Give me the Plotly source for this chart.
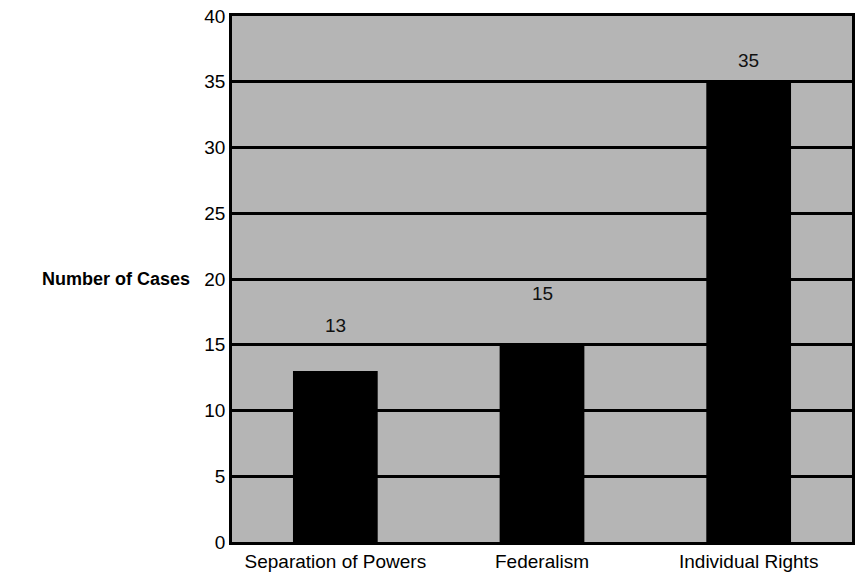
import plotly.graph_objects as go

categories = ["Separation of Powers", "Federalism", "Individual Rights"]
cases = [13, 15, 35]
label_text = ["13", "15", "35"]
label_y = [16.5, 18.9, 36.6]
y_ticks = [0, 5, 10, 15, 20, 25, 30, 35, 40]

FONT = "Liberation Sans, Arial, Helvetica, sans-serif"

fig = go.Figure()
fig.add_trace(go.Bar(
    x=categories, y=cases,
    marker=dict(color="black", line=dict(width=0)),
    width=0.41,
    hoverinfo="x+y",
))

for c, t, ly in zip(categories, label_text, label_y):
    fig.add_annotation(x=c, y=ly, text=t, showarrow=False,
                       font=dict(family=FONT, size=19, color="#111"),
                       xref="x", yref="y")

fig.add_annotation(x=0, y=20, xref="paper", yref="y", text="<b>Number of Cases</b>",
                   showarrow=False, xanchor="right", xshift=-40,
                   font=dict(family=FONT, size=18, color="black"))

fig.update_layout(
    width=859, height=574,
    margin=dict(l=232, r=7, t=16, b=32, autoexpand=False),
    paper_bgcolor="white",
    plot_bgcolor="#b5b5b5",
    showlegend=False,
    font=dict(family=FONT, size=18, color="black"),
)
fig.update_xaxes(
    showgrid=False, showline=True, linecolor="black", linewidth=2.5, mirror=True,
    ticks="", tickfont=dict(family=FONT, size=19, color="black"), automargin=False,
)
fig.update_yaxes(
    range=[0, 40], tickvals=y_ticks, showgrid=True, gridcolor="black", gridwidth=2.5,
    showline=True, linecolor="black", linewidth=2.5, mirror=True,
    ticks="", ticklen=0, tickfont=dict(family=FONT, size=19, color="black"),
    zeroline=False, automargin=False,
)

fig.write_html("out.html", config={"displayModeBar": False},
               post_script="document.body.style.margin='0';")
